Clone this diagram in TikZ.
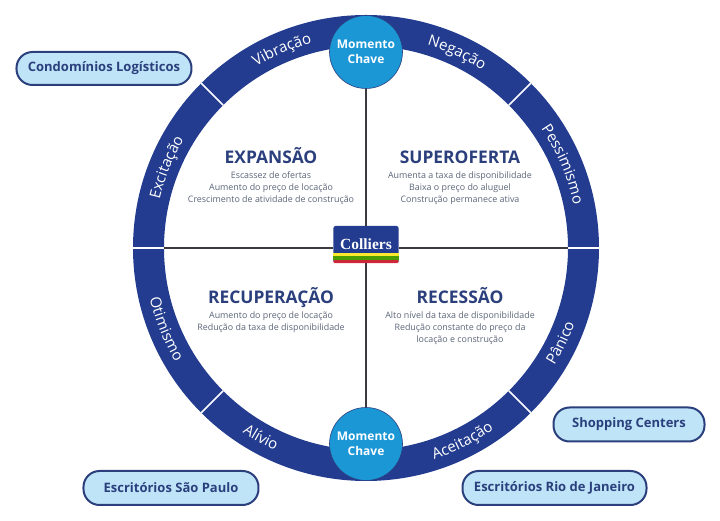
\documentclass[tikz,border=0pt]{standalone}
\usepackage{fontspec}
\setmainfont{Open Sans}
\newfontfamily\logofont{Liberation Serif}
\usetikzlibrary{positioning,decorations.text}

\definecolor{ringblue}{HTML}{233C8F}
\definecolor{keyblue}{HTML}{1B97D6}
\definecolor{pillblue}{HTML}{BFE4F8}
\definecolor{titleblue}{HTML}{2A3F7C}
\definecolor{bodygrey}{HTML}{5C6579}
\definecolor{axisgrey}{HTML}{3A3A40}

\tikzset{
    keycircle/.style={circle, fill=keyblue, draw=titleblue, line width=0.6pt, minimum size=73pt, inner sep=0pt,
        align=center, text=white, font=\fontsize{12}{15}\selectfont\bfseries},
    pill/.style={rounded corners=16pt, fill=pillblue, draw=titleblue, line width=2pt, inner sep=0pt,
        text=titleblue, font=\fontsize{13}{15}\selectfont\bfseries},
    phasetitle/.style={text=titleblue, inner sep=0pt, text height=12.5pt, text depth=0pt, font=\fontsize{17.4}{20}\selectfont\bfseries},
    phasebody/.style={text=bodygrey, align=center, inner sep=0pt, font=\fontsize{8.9}{12}\selectfont},
    axis/.style={draw=axisgrey, line width=1.5pt},
    divider/.style={draw=white, line width=1.6pt},
}
\newcommand{\ringfont}{\color{white}\fontsize{15}{18}\selectfont}
% labels on the upper half read clockwise, on the lower half counter-clockwise
\newcommand{\ringtop}[2]{\path[decorate, decoration={text along path, text align=center, text={|\ringfont|#2}}]
    (#1+50:212) arc[start angle=#1+50, end angle=#1-50, radius=212];}
\newcommand{\ringlow}[2]{\path[decorate, decoration={text along path, text align=center, text={|\ringfont|#2}}]
    (#1-50:222) arc[start angle=#1-50, end angle=#1+50, radius=222];}

\begin{document}
\begin{tikzpicture}[x=1pt, y=1pt]
    \useasboundingbox (-366,-273) rectangle (354,248);

    % ring
    \coordinate (hub) at (0,0);
    \fill[ringblue, even odd rule] (hub) circle (233) (hub) circle (202);
    \foreach \a in {0,45,135,180,225,315} {
        \coordinate (inner\a) at (\a:202);
        \coordinate (outer\a) at (\a:233);
        \draw[divider] (inner\a) -- (outer\a);
    }

    \ringtop{113}{Vibração}
    \ringtop{65}{Negação}
    \ringtop{23}{Pessimismo}
    \ringtop{158}{Excitação}
    \ringlow{202}{Otimismo}
    \ringlow{241}{Alívio}
    \ringlow{296.5}{Aceitação}
    \ringlow{334}{Pânico}

    % logo and axes
    \node[rounded corners=2pt, fill=ringblue, minimum width=65pt, minimum height=37pt, inner sep=0pt] (logo) at (0,3.5) {};
    \node[text=white, inner sep=0pt, font=\logofont\fontsize{15.5}{17}\selectfont\bfseries, above=13pt of logo.south] (logotext) {Colliers};
    \fill[red!75!ringblue!90!white, rounded corners=1.5pt] (logo.south west) rectangle ([yshift=3.5pt]logo.south east);
    \fill[green!45!black!70!yellow] ([yshift=3.3pt]logo.south west) rectangle ([yshift=7pt]logo.south east);
    \fill[yellow!80!white!90!orange] ([yshift=7pt]logo.south west) rectangle ([yshift=10pt]logo.south east);

    \node[keycircle] (keytop) at (0,196) {Momento\\Chave};
    \node[keycircle] (keybot) at (0,-196) {Momento\\Chave};

    \draw[axis] (keytop) -- (logo);
    \draw[axis] (logo) -- (keybot);
    \draw[axis] (inner180) -- (inner180 -| logo.west);
    \draw[axis] (inner0 -| logo.east) -- (inner0);

    % phases
    \node[phasetitle] (expansao) at (-95,90.5) {EXPANSÃO};
    \node[phasebody, below=8pt of expansao] (expansaotxt) {Escassez de ofertas\\Aumento do preço de locação\\Crescimento de atividade de construção};
    \node[phasetitle] (superoferta) at (94,90.5) {SUPEROFERTA};
    \node[phasebody, below=8pt of superoferta] (superofertatxt) {Aumenta a taxa de disponibilidade\\Baixa o preço do aluguel\\Construção permanece ativa};
    \node[phasetitle] (recuperacao) at (-95,-49.5) {RECUPERAÇÃO};
    \node[phasebody, below=8pt of recuperacao] (recuperacaotxt) {Aumento do preço de locação\\Redução da taxa de disponibilidade};
    \node[phasetitle] (recessao) at (94,-49.5) {RECESSÃO};
    \node[phasebody, below=8pt of recessao] (recessaotxt) {Alto nível da taxa de disponibilidade\\Redução constante do preço da\\locação e construção};

    % segments
    \node[pill, minimum width=175pt, minimum height=33pt] (condominios) at (-262,179.5) {Condomínios Logísticos};
    \node[pill, minimum width=175pt, minimum height=34pt] (saopaulo) at (-195,-240) {Escritórios São Paulo};
    \node[pill, minimum width=151pt, minimum height=34pt] (shopping) at (263,-176.5) {Shopping Centers};
    \node[pill, minimum width=184pt, minimum height=34pt] (riodejaneiro) at (188.5,-240) {Escritórios Rio de Janeiro};
\end{tikzpicture}
\end{document}
